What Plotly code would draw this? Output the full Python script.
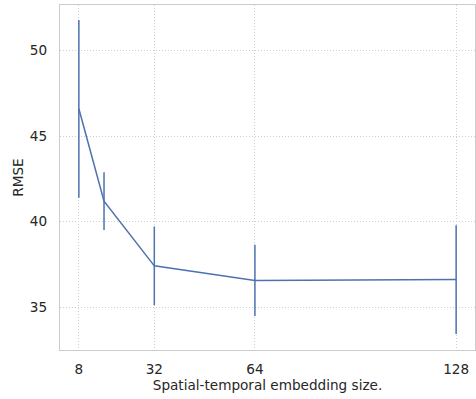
import plotly.graph_objects as go

# Embedding size sweep: mean RMSE with spread per setting
embedding_size = [8, 16, 32, 64, 128]
rmse_mean = [46.6, 41.2, 37.42, 36.57, 36.62]
rmse_err = [5.2, 1.69, 2.3, 2.08, 3.18]
x_ticks = [8, 32, 64, 128]
y_ticks = [35, 40, 45, 50]

blue = "#4C72B0"
font_family = "DejaVu Sans"
font_size = 13.6

fig = go.Figure(
    go.Scatter(
        x=embedding_size,
        y=rmse_mean,
        mode="lines",
        line=dict(color=blue, width=1.5),
        error_y=dict(type="data", array=rmse_err, visible=True,
                     color=blue, thickness=1.5, width=0),
        showlegend=False,
    )
)

axis_common = dict(
    showline=True, linecolor="#cccccc", linewidth=1.25, mirror=True,
    showgrid=True, gridcolor="#cfcfcf", griddash="1px,2px", gridwidth=1,
    zeroline=False, ticks="",
    tickfont=dict(family=font_family, size=font_size, color="#262626"),
    title_font=dict(family=font_family, size=font_size, color="#262626"),
)

fig.update_xaxes(
    range=[2, 134], tickvals=x_ticks, ticktext=[str(v) for v in x_ticks],
    ticklabelstandoff=7,
    title_text="Spatial-temporal embedding size.", title_standoff=4,
    **axis_common,
)
fig.update_yaxes(
    range=[32.5, 52.67], tickvals=y_ticks, ticklabelstandoff=9,
    title_text="RMSE", title_standoff=3,
    **axis_common,
)

fig.update_layout(
    width=476, height=399,
    margin=dict(l=60, r=1, t=5, b=49),
    plot_bgcolor="white", paper_bgcolor="white",
    font=dict(family=font_family, size=font_size, color="#262626"),
)

fig.write_html("out.html")
